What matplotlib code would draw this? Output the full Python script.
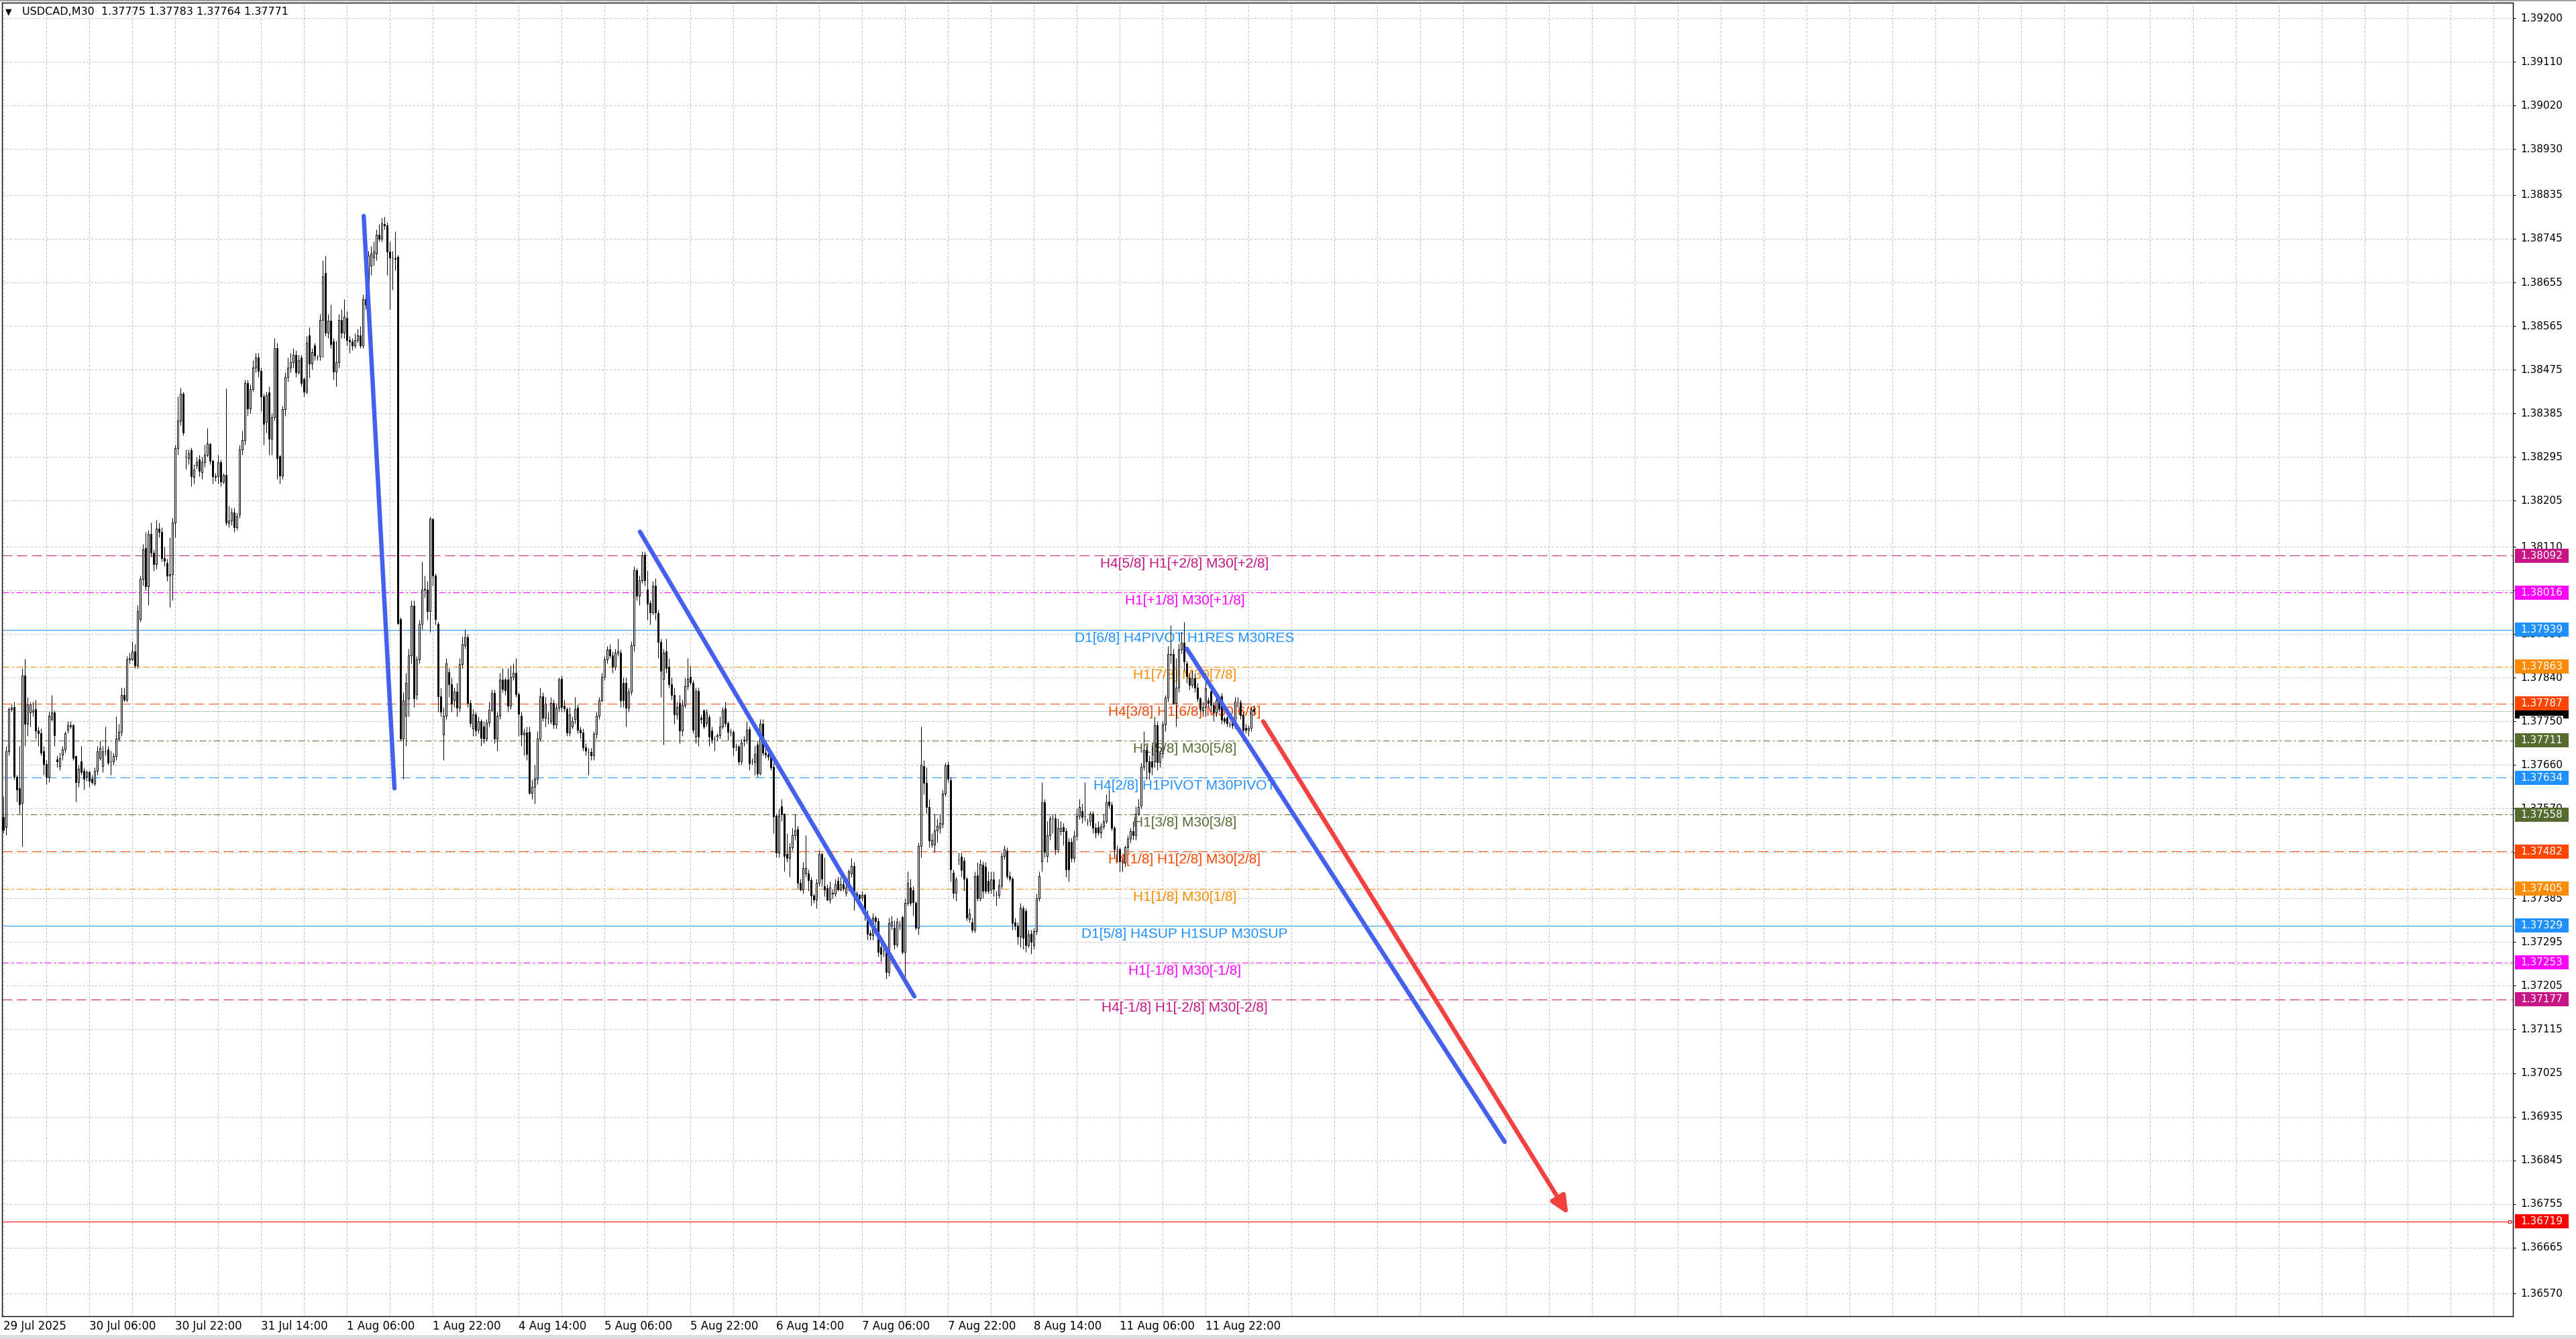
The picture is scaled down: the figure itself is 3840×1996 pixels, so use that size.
import matplotlib

matplotlib.use("Agg")
import matplotlib.pyplot as plt
import numpy as np
from matplotlib.patches import Rectangle, FancyArrowPatch
from matplotlib.transforms import blended_transform_factory

# ---- data (prices stored as 1e-5 offsets from 1.37000) ----
BASE = 1.37

opens = [
    553, 532, 688, 775, 779, 635, 612, 582, 845, 745,
    768, 770, 775, 731, 725, 688, 662, 635, 755, 768,
    672, 658, 682, 692, 732, 740, 742, 678, 625, 668,
    648, 635, 645, 632, 622, 648, 675, 658, 688, 692,
    668, 668, 678, 715, 728, 805, 795, 878, 878, 895,
    865, 961, 1044, 1107, 1028, 1137, 1097, 1074, 1147, 1140,
    1087, 1077, 1051, 1054, 1160, 1313, 1370, 1425, 1295, 1292,
    1309, 1254, 1277, 1290, 1264, 1284, 1300, 1322, 1287, 1256,
    1256, 1284, 1244, 1258, 1159, 1164, 1180, 1150, 1177, 1310,
    1330, 1448, 1395, 1435, 1480, 1500, 1473, 1420, 1367, 1428,
    1333, 1377, 1520, 1297, 1257, 1393, 1460, 1480, 1490, 1505,
    1470, 1500, 1456, 1430, 1546, 1487, 1525, 1500, 1503, 1578,
    1675, 1552, 1576, 1534, 1471, 1491, 1577, 1552, 1582, 1536,
    1533, 1525, 1536, 1546, 1525, 1620, 1614, 1690, 1706, 1714,
    1753, 1745, 1775, 1773, 1719, 1706, 1705, 1708, 961, 715,
    762, 798, 886, 989, 806, 878, 951, 1021, 1021, 977,
    1167, 1051, 951, 802, 723, 762, 852, 826, 794, 812,
    778, 868, 907, 924, 788, 735, 764, 732, 750, 740,
    715, 748, 774, 809, 715, 762, 836, 836, 836, 782,
    842, 850, 806, 762, 723, 727, 729, 603, 615, 631,
    715, 802, 758, 756, 750, 788, 743, 778, 838, 782,
    775, 727, 740, 754, 778, 732, 727, 697, 687, 687,
    680, 724, 762, 794, 842, 878, 898, 886, 862, 892,
    892, 830, 830, 778, 812, 907, 1061, 1009, 1041, 1094,
    1022, 994, 975, 1030, 973, 914, 838, 894, 862, 826,
    805, 765, 788, 731, 784, 823, 842, 829, 718, 813,
    758, 772, 747, 759, 731, 713, 718, 721, 740, 777,
    747, 729, 729, 698, 698, 667, 710, 712, 734, 667,
    666, 702, 643, 745, 686, 681, 677, 656, 556, 480,
    575, 559, 476, 469, 491, 515, 528, 417, 404, 436,
    436, 423, 391, 383, 417, 477, 410, 406, 383, 395,
    395, 421, 404, 415, 396, 407, 436, 452, 395, 392,
    387, 392, 351, 313, 309, 345, 338, 284, 277, 277,
    233, 328, 325, 290, 331, 347, 274, 376, 407, 402,
    376, 325, 493, 658, 623, 573, 496, 496, 525, 531,
    539, 601, 660, 629, 438, 396, 466, 471, 463, 426,
    343, 336, 320, 433, 385, 454, 451, 421, 403, 424,
    392, 392, 412, 472, 484, 431, 426, 336, 329, 306,
    365, 359, 288, 312, 288, 318, 385, 461, 583, 472,
    516, 550, 550, 486, 523, 532, 523, 502, 502, 468,
    514, 555, 565, 554, 541, 544, 560, 531, 532, 521,
    534, 544, 585, 577, 530, 486, 486, 458, 458, 490,
    509, 523, 516, 560, 576, 657, 691, 668, 668, 668,
    742, 666, 684, 744, 799, 887, 889, 788, 820, 899,
    912, 869, 841, 825, 839, 820, 797, 772, 779, 793,
    811, 783, 769, 793, 802, 756, 758, 744, 756, 742,
    789, 789, 763, 737, 733, 737, 775,
]

highs = [
    595, 700, 780, 785, 790, 640, 700, 860, 879, 800,
    790, 790, 795, 740, 735, 700, 670, 770, 805, 772,
    680, 685, 700, 730, 750, 750, 745, 680, 660, 700,
    655, 650, 650, 640, 655, 700, 710, 700, 740, 700,
    690, 685, 760, 745, 820, 820, 885, 892, 915, 910,
    990, 1050, 1115, 1140, 1145, 1160, 1105, 1165, 1160, 1150,
    1110, 1085, 1130, 1170, 1320, 1420, 1438, 1430, 1310, 1310,
    1315, 1280, 1295, 1300, 1295, 1320, 1355, 1325, 1290, 1262,
    1300, 1290, 1262, 1436, 1195, 1190, 1190, 1180, 1320, 1350,
    1455, 1455, 1445, 1495, 1510, 1510, 1480, 1425, 1430, 1440,
    1385, 1540, 1530, 1300, 1400, 1470, 1500, 1510, 1520, 1515,
    1505, 1505, 1460, 1545, 1562, 1520, 1530, 1505, 1590, 1700,
    1710, 1590, 1610, 1540, 1535, 1590, 1600, 1620, 1595, 1545,
    1540, 1550, 1560, 1565, 1630, 1640, 1720, 1730, 1740, 1765,
    1775, 1788, 1790, 1780, 1740, 1720, 1760, 1712, 965, 810,
    850, 900, 1000, 1000, 885, 960, 1080, 1050, 1040, 1172,
    1170, 1055, 955, 820, 780, 880, 860, 840, 820, 830,
    880, 925, 940, 930, 795, 775, 770, 760, 755, 750,
    755, 790, 815, 815, 770, 850, 860, 840, 860, 865,
    870, 880, 810, 770, 735, 740, 740, 630, 660, 730,
    820, 810, 800, 770, 800, 795, 785, 840, 845, 795,
    780, 780, 760, 800, 785, 740, 735, 705, 695, 695,
    730, 770, 800, 850, 885, 905, 910, 895, 900, 920,
    898, 840, 840, 820, 915, 1070, 1066, 1050, 1100, 1100,
    1060, 1000, 1040, 1045, 980, 920, 900, 920, 880, 840,
    820, 790, 805, 795, 840, 880, 865, 835, 820, 820,
    765, 775, 775, 765, 740, 720, 725, 760, 780, 790,
    750, 735, 732, 705, 702, 715, 720, 750, 740, 675,
    700, 710, 755, 755, 700, 690, 680, 665, 560, 570,
    590, 560, 520, 500, 530, 560, 535, 425, 460, 515,
    445, 430, 395, 425, 485, 480, 470, 415, 420, 405,
    425, 430, 430, 425, 415, 445, 468, 460, 400, 395,
    400, 395, 360, 320, 355, 350, 345, 290, 285, 285,
    345, 350, 340, 345, 340, 350, 385, 440, 425, 410,
    380, 500, 740, 670, 655, 590, 520, 560, 550, 560,
    610, 665, 668, 635, 445, 430, 480, 480, 470, 430,
    365, 345, 440, 460, 465, 462, 460, 440, 440, 440,
    400, 425, 480, 495, 490, 440, 430, 345, 335, 375,
    370, 365, 320, 320, 325, 395, 440, 625, 590, 545,
    555, 560, 560, 550, 545, 540, 530, 510, 510, 525,
    570, 590, 580, 625, 550, 565, 565, 540, 545, 540,
    560, 600, 610, 585, 535, 495, 490, 470, 495, 515,
    530, 545, 575, 590, 665, 730, 700, 680, 700, 760,
    750, 690, 750, 805, 905, 948, 900, 880, 910, 935,
    955, 875, 850, 855, 850, 830, 800, 790, 850, 800,
    815, 790, 800, 800, 808, 760, 762, 750, 760, 800,
    800, 795, 770, 745, 742, 780, 783,
]

lows = [
    520, 515, 680, 770, 630, 585, 560, 492, 700, 720,
    740, 760, 715, 700, 680, 640, 620, 625, 750, 700,
    655, 650, 670, 685, 725, 735, 670, 585, 615, 640,
    610, 628, 615, 620, 618, 640, 670, 645, 680, 660,
    640, 660, 670, 710, 720, 790, 790, 870, 875, 860,
    860, 955, 1030, 1020, 990, 1090, 1060, 1065, 1130, 1080,
    1070, 1040, 985, 1000, 1130, 1300, 1360, 1340, 1270, 1280,
    1235, 1240, 1270, 1255, 1250, 1275, 1295, 1280, 1240, 1245,
    1240, 1235, 1240, 1155, 1150, 1155, 1140, 1145, 1170, 1300,
    1320, 1380, 1385, 1430, 1470, 1460, 1390, 1320, 1345, 1300,
    1300, 1370, 1250, 1240, 1250, 1380, 1450, 1470, 1480, 1460,
    1465, 1440, 1420, 1425, 1459, 1475, 1495, 1495, 1495, 1500,
    1545, 1540, 1520, 1455, 1440, 1480, 1540, 1540, 1525, 1510,
    1515, 1520, 1530, 1520, 1520, 1600, 1600, 1670, 1690, 1700,
    1740, 1740, 1765, 1670, 1600, 1640, 1680, 950, 710, 631,
    700, 760, 870, 780, 795, 870, 940, 1005, 960, 935,
    1030, 950, 770, 760, 670, 755, 800, 770, 780, 760,
    770, 860, 900, 780, 740, 720, 720, 725, 700, 705,
    710, 740, 770, 705, 690, 755, 810, 805, 770, 775,
    835, 800, 720, 700, 680, 670, 600, 590, 580, 620,
    710, 750, 740, 745, 745, 735, 735, 770, 770, 770,
    720, 720, 735, 745, 725, 715, 690, 680, 640, 670,
    670, 715, 755, 790, 835, 870, 880, 850, 855, 885,
    780, 780, 740, 770, 805, 895, 1000, 990, 1035, 1030,
    960, 950, 970, 960, 880, 800, 702, 850, 820, 795,
    745, 755, 705, 720, 778, 815, 825, 725, 705, 700,
    745, 735, 740, 700, 705, 690, 710, 715, 735, 740,
    710, 720, 680, 690, 660, 660, 700, 705, 650, 660,
    640, 635, 640, 680, 675, 670, 650, 520, 470, 470,
    545, 440, 460, 430, 485, 505, 405, 400, 395, 430,
    400, 370, 375, 365, 410, 410, 390, 380, 375, 385,
    390, 400, 400, 400, 390, 400, 430, 360, 380, 375,
    380, 340, 300, 300, 300, 330, 265, 255, 265, 220,
    225, 320, 280, 285, 320, 270, 217, 370, 370, 350,
    320, 310, 470, 600, 560, 490, 490, 480, 500, 520,
    530, 595, 625, 420, 385, 380, 455, 430, 400, 340,
    335, 315, 315, 380, 380, 385, 395, 395, 395, 390,
    370, 385, 405, 465, 425, 420, 320, 320, 290, 285,
    280, 275, 285, 270, 280, 310, 380, 440, 470, 460,
    505, 520, 475, 480, 515, 495, 430, 420, 460, 460,
    505, 548, 540, 545, 535, 535, 520, 510, 515, 510,
    528, 540, 570, 525, 470, 460, 440, 440, 450, 480,
    500, 505, 505, 555, 570, 650, 630, 630, 640, 655,
    650, 655, 675, 730, 790, 870, 785, 740, 810, 890,
    855, 830, 815, 820, 810, 790, 770, 760, 760, 780,
    770, 750, 760, 770, 745, 745, 740, 738, 735, 735,
    780, 755, 720, 725, 720, 730, 764,
]

closes = [
    527, 688, 775, 778, 635, 609, 579, 845, 745, 785,
    785, 772, 731, 725, 685, 662, 635, 761, 768, 722,
    668, 675, 692, 725, 742, 742, 675, 625, 652, 645,
    632, 645, 628, 625, 648, 688, 695, 688, 688, 665,
    668, 678, 715, 728, 805, 795, 878, 880, 895, 865,
    978, 1044, 1104, 1028, 1137, 1097, 1074, 1147, 1140, 1087,
    1081, 1051, 1054, 1160, 1313, 1370, 1425, 1345, 1295, 1302,
    1256, 1269, 1285, 1267, 1284, 1300, 1323, 1287, 1256, 1254,
    1285, 1244, 1258, 1160, 1164, 1180, 1150, 1174, 1310, 1330,
    1448, 1395, 1435, 1480, 1500, 1473, 1420, 1363, 1423, 1333,
    1377, 1520, 1293, 1257, 1393, 1460, 1480, 1490, 1505, 1470,
    1495, 1447, 1430, 1530, 1487, 1511, 1504, 1500, 1578, 1667,
    1552, 1576, 1528, 1471, 1491, 1578, 1552, 1584, 1536, 1533,
    1525, 1536, 1546, 1525, 1620, 1610, 1710, 1714, 1718, 1753,
    1745, 1777, 1773, 1719, 1706, 1706, 1703, 953, 715, 794,
    830, 886, 989, 798, 878, 951, 1021, 1023, 977, 1168,
    1051, 961, 802, 770, 762, 870, 826, 786, 812, 778,
    868, 910, 924, 788, 747, 764, 731, 750, 716, 715,
    748, 774, 809, 715, 762, 836, 817, 814, 782, 842,
    850, 806, 766, 723, 727, 683, 603, 615, 631, 715,
    802, 758, 786, 756, 788, 743, 778, 836, 780, 777,
    727, 764, 750, 775, 732, 727, 697, 689, 687, 680,
    724, 762, 794, 842, 878, 898, 886, 862, 892, 894,
    794, 794, 778, 812, 907, 1061, 1009, 1041, 1092, 1041,
    992, 975, 1030, 975, 914, 854, 892, 860, 826, 805,
    765, 780, 731, 784, 823, 838, 831, 732, 813, 718,
    755, 740, 768, 718, 713, 713, 721, 740, 772, 747,
    729, 729, 696, 698, 667, 706, 712, 732, 664, 667,
    683, 643, 745, 686, 681, 677, 655, 554, 480, 556,
    559, 472, 469, 491, 515, 525, 417, 404, 448, 448,
    423, 391, 382, 417, 476, 426, 404, 383, 407, 396,
    415, 404, 414, 406, 407, 440, 452, 396, 388, 385,
    392, 351, 312, 309, 345, 338, 274, 271, 277, 233,
    334, 337, 290, 337, 331, 274, 376, 417, 376, 377,
    325, 493, 661, 623, 573, 504, 506, 525, 535, 540,
    601, 659, 631, 445, 396, 424, 466, 443, 426, 345,
    354, 320, 431, 385, 456, 401, 401, 401, 424, 405,
    392, 412, 472, 486, 431, 426, 334, 329, 306, 366,
    304, 288, 311, 295, 318, 385, 431, 583, 481, 516,
    550, 550, 486, 530, 530, 523, 445, 445, 468, 514,
    555, 574, 553, 554, 541, 560, 530, 521, 521, 534,
    544, 583, 577, 530, 486, 486, 461, 458, 490, 509,
    523, 516, 560, 574, 657, 691, 668, 645, 657, 742,
    666, 684, 744, 799, 889, 889, 788, 820, 899, 912,
    873, 843, 825, 839, 820, 797, 776, 779, 818, 788,
    783, 769, 793, 776, 753, 751, 746, 744, 742, 790,
    789, 763, 733, 733, 737, 774, 771,
]

time_label_bars = [0, 32, 64, 96, 128, 160, 192, 224, 256, 288, 320, 352, 384, 416, 448]
time_labels = [
    "29 Jul 2025", "30 Jul 06:00", "30 Jul 22:00", "31 Jul 14:00", "1 Aug 06:00",
    "1 Aug 22:00", "4 Aug 14:00", "5 Aug 06:00", "5 Aug 22:00", "6 Aug 14:00",
    "7 Aug 06:00", "7 Aug 22:00", "8 Aug 14:00", "11 Aug 06:00", "11 Aug 22:00",
]

price_ticks = [
    1.39200, 1.39110, 1.39020, 1.38930, 1.38835, 1.38745, 1.38655, 1.38565,
    1.38475, 1.38385, 1.38295, 1.38205, 1.38110, 1.38020, 1.37930, 1.37840,
    1.37750, 1.37660, 1.37570, 1.37480, 1.37385, 1.37295, 1.37205, 1.37115,
    1.37025, 1.36935, 1.36845, 1.36755, 1.36665, 1.36570,
]

level_prices = [1.38092, 1.38016, 1.37939, 1.37863, 1.37787, 1.37711, 1.37634,
                1.37558, 1.37482, 1.37405, 1.37329, 1.37253, 1.37177]
level_texts = [
    "H4[5/8] H1[+2/8] M30[+2/8]", "H1[+1/8] M30[+1/8]", "D1[6/8] H4PIVOT H1RES M30RES",
    "H1[7/8] M30[7/8]", "H4[3/8] H1[6/8] M30[6/8]", "H1[5/8] M30[5/8]",
    "H4[2/8] H1PIVOT M30PIVOT", "H1[3/8] M30[3/8]", "H4[1/8] H1[2/8] M30[2/8]",
    "H1[1/8] M30[1/8]", "D1[5/8] H4SUP H1SUP M30SUP", "H1[-1/8] M30[-1/8]",
    "H4[-1/8] H1[-2/8] M30[-2/8]",
]
level_colors = ["#C71585", "#FF00FF", "#1E90FF", "#FF8C00", "#FF4500", "#556B2F", "#1E90FF",
                "#556B2F", "#FF4500", "#FF8C00", "#1E90FF", "#FF00FF", "#C71585"]
level_styles = ["dash", "dashdot", "solid", "dashdot", "dash", "dashdot", "dash",
                "dashdot", "dash", "dashdot", "solid", "dashdot", "dash"]

target_price = 1.36719
bid_price = 1.37771

# drawn trendlines: (bar, price) -> (bar, price)
trend_start_bar = [134.3, 237.25, 441.0]
trend_start_price = [1.38792, 1.38141, 1.37900]
trend_end_bar = [145.75, 339.5, 559.5]
trend_end_price = [1.37612, 1.37183, 1.36883]
arrow_start = (469.5, 1.37750)
arrow_end = (583.25, 1.36733)

title_text = "USDCAD,M30  1.37775 1.37783 1.37764 1.37771"

# ---- layout ----
W, H, DPI = 3840, 1996, 100
PX = 72 / DPI  # points per pixel
plt.rcParams["lines.scale_dashes"] = False

AX_L, AX_R, AX_T, AX_B = 3, 3746, 4, 1962
PX_PER_UNIT = 72300.0
Y_TOP = 1.392 + (27 - AX_T) / PX_PER_UNIT
Y_BOT = 1.392 - (AX_B - 27) / PX_PER_UNIT

fig = plt.figure(figsize=(W / DPI, H / DPI), dpi=DPI, facecolor="white")
ax = fig.add_axes([AX_L / W, (H - AX_B) / H, (AX_R - AX_L) / W, (AX_B - AX_T) / H])
ax.set_xlim(-0.5, -0.5 + (AX_R - AX_L) / 4.0)
ax.set_ylim(Y_BOT, Y_TOP)

o = BASE + np.array(opens) / 1e5
h = BASE + np.array(highs) / 1e5
l = BASE + np.array(lows) / 1e5
c = BASE + np.array(closes) / 1e5
x = np.arange(len(c))

# grid
grid_bars = np.arange(0, ax.get_xlim()[1], 16)
ax.set_xticks(grid_bars)
ax.set_yticks(price_ticks)
ax.grid(True, color="#BDBDBD", linestyle=(0, (3 * PX, 3 * PX)), linewidth=PX, zorder=0)
ax.set_axisbelow(True)
ax.tick_params(axis="x", length=0, labelbottom=False)
ax.tick_params(axis="y", left=False, right=True, labelleft=False, labelright=False,
               length=4 * PX, width=PX, direction="out", color="black")
for s in ax.spines.values():
    s.set_linewidth(1.4 * PX)
    s.set_color("black")

dash_styles = {
    "dash": (0, (15 * PX, 7 * PX)),
    "dashdot": (0, (10 * PX, 4 * PX, 3 * PX, 4 * PX)),
    "solid": "-",
}

# level lines and their labels
for price, text, color, style in zip(level_prices, level_texts, level_colors, level_styles):
    ax.axhline(price, color=color, linewidth=PX, linestyle=dash_styles[style], zorder=1)
    ax.text(440.25, price - 18 / PX_PER_UNIT, text, color=color, fontsize=15,
            family="Liberation Sans", ha="center", va="baseline", zorder=2)

ax.axhline(bid_price, color="#C0C0C0", linewidth=PX, zorder=1)
ax.axhline(target_price, color="#FF0000", linewidth=PX, zorder=1)
ax.plot([ax.get_xlim()[1] - 1.2], [target_price], marker="s", markersize=5 * PX,
        mfc="white", mec="#FF0000", mew=PX, zorder=2, clip_on=False)

# candles
ax.vlines(x, l, h, color="black", linewidth=PX, zorder=3)
bull = c >= o
body_low = np.minimum(o, c)
body_h = np.abs(c - o)
ax.bar(x, body_h, bottom=body_low, width=0.55,
       color=np.where(bull, "white", "black"), edgecolor="black",
       linewidth=PX, zorder=4)

# trendlines
for xs, ps, xe, pe in zip(trend_start_bar, trend_start_price, trend_end_bar, trend_end_price):
    ax.plot([xs, xe], [ps, pe], color="#4361EE", linewidth=6.5 * PX,
            solid_capstyle="round", zorder=7)

arrow = FancyArrowPatch(arrow_start, arrow_end,
                        arrowstyle="-|>,head_length=1.0,head_width=0.45",
                        mutation_scale=22 * PX, color="#F54040",
                        linewidth=6.5 * PX, shrinkA=0, shrinkB=0, zorder=7)
ax.add_patch(arrow)

# right price scale
tr_y = blended_transform_factory(ax.transAxes, ax.transData)
ax_w = AX_R - AX_L
label_xa = (3757 - AX_L) / ax_w
box_xa = (3749 - AX_L) / ax_w
box_w = 80 / ax_w
box_h = 21 / PX_PER_UNIT

# bid marker sits under the tick labels
ax.add_patch(Rectangle((box_xa, bid_price - box_h / 2), box_w, box_h, transform=tr_y,
                       facecolor="black", edgecolor="none", clip_on=False, zorder=3))
for p in price_ticks:
    ax.text(label_xa, p, f"{p:.5f}", transform=tr_y, fontsize=11, family="DejaVu Sans",
            color="black", ha="left", va="center", clip_on=False, zorder=4,
            bbox=dict(facecolor="white", edgecolor="none", pad=0.5))

box_prices = level_prices + [target_price]
box_colors = level_colors + ["#FF0000"]
for i, (p, col) in enumerate(zip(box_prices, box_colors)):
    ax.add_patch(Rectangle((box_xa, p - box_h / 2), box_w, box_h, transform=tr_y,
                           facecolor=col, edgecolor="none", clip_on=False, zorder=8 + i * 0.01))
    ax.text(label_xa, p, f"{p:.5f}", transform=tr_y, fontsize=11, family="DejaVu Sans",
            color="white", ha="left", va="center", clip_on=False, zorder=8.5 + i * 0.01)

# time scale
tr_x = blended_transform_factory(ax.transData, ax.transAxes)
label_ya = (AX_B - 1977) / (AX_B - AX_T)
for b, lab in zip(time_label_bars, time_labels):
    ax.text(b, label_ya, lab, transform=tr_x, fontsize=12, family="DejaVu Sans",
            color="black", ha="left", va="center", clip_on=False)

# header
fig.text(8 / W, 1 - 18 / H, "\u25bc", fontsize=9, family="DejaVu Sans", va="center", ha="left")
fig.text(33 / W, 1 - 18 / H, title_text, fontsize=11.5, family="DejaVu Sans",
         va="center", ha="left")

# window chrome
fig.patches.append(Rectangle((0, 1 - 2 / H), 1, 2 / H, transform=fig.transFigure,
                             facecolor="#A0A0A0", edgecolor="none"))
fig.patches.append(Rectangle((0, 0), 1, 6 / H, transform=fig.transFigure,
                             facecolor="#DCDCDC", edgecolor="none"))

fig.savefig("out.png", dpi=DPI, facecolor="white")
